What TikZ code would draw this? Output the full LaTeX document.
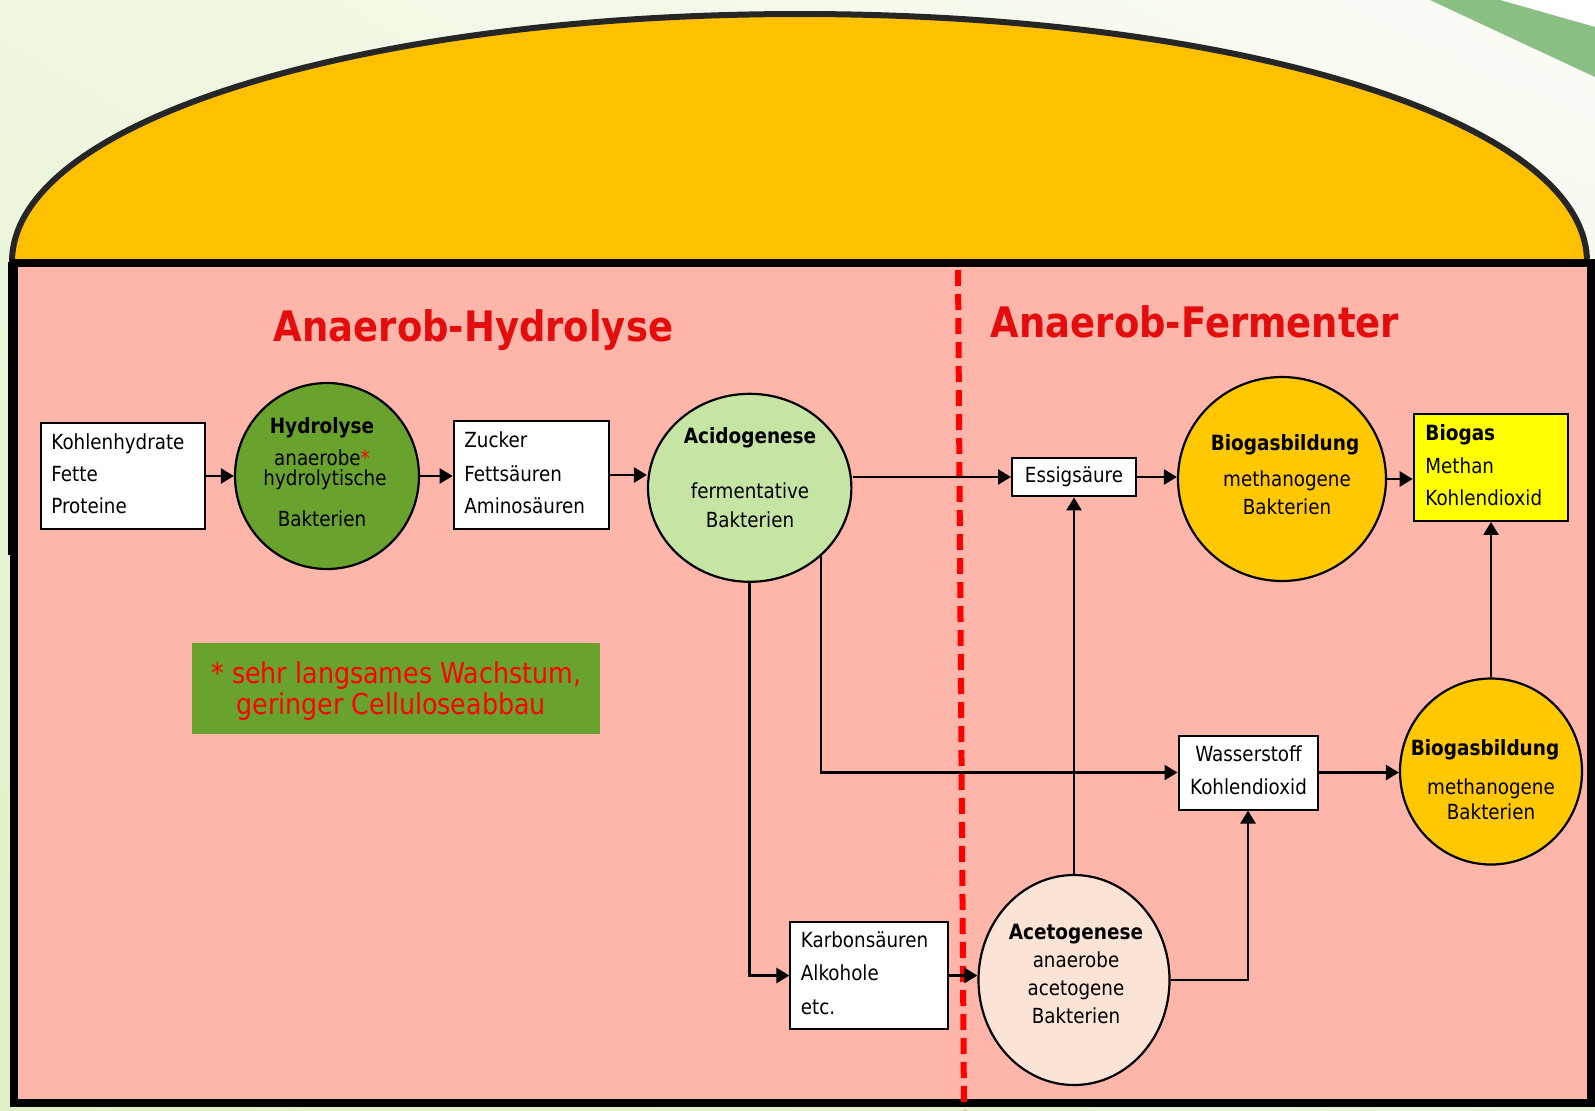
\documentclass[tikz,border=0pt]{standalone}
\usepackage{fontspec}
\setmainfont{DejaVu Sans}[FakeStretch=0.88]
\usetikzlibrary{shapes.geometric,arrows.meta,shadings}
\definecolor{pinkbg}{HTML}{FFB6AA}
\definecolor{domefill}{HTML}{FFC000}
\definecolor{domeline}{HTML}{262626}
\definecolor{titlered}{HTML}{E30D0D}
\definecolor{darkgreen}{HTML}{6AA22E}
\definecolor{lightgreen}{HTML}{C6E4A3}
\definecolor{biogold}{HTML}{FFC800}
\definecolor{biogasyellow}{HTML}{FFFF00}
\definecolor{acetfill}{HTML}{FBE3D6}
\definecolor{bandgreen}{HTML}{8ABF84}
\definecolor{bgA}{HTML}{EEF7E1}
\definecolor{bgB}{HTML}{FAFCF6}
\definecolor{bgC}{HTML}{E0F0C4}
\definecolor{bgD}{HTML}{E8F3D6}
\begin{document}
\begin{tikzpicture}[x=0.5pt,y=-0.5pt,
  box/.style={draw=black,line width=1pt,fill=white,inner sep=0pt,rectangle},
  oval/.style={ellipse,draw=black,line width=1.1pt,inner sep=0pt},
  conn/.style={line width=1.3pt,-{Triangle[length=6.5pt,width=7.5pt]}},
  txt/.style={inner sep=0pt,anchor=base,font=\fontsize{10.4}{12}\selectfont},
  txtl/.style={txt,anchor=base west},
  btxt/.style={inner sep=0pt,anchor=base,font=\fontsize{10.5}{12}\selectfont\bfseries},
  btxtl/.style={btxt,anchor=base west},
  title/.style={inner sep=0pt,anchor=base,text=titlered,font=\fontsize{21}{24}\selectfont\bfseries},
  notetxt/.style={inner sep=0pt,anchor=base west,text=red,font=\fontsize{14.4}{16}\selectfont}]
\useasboundingbox (0,0) rectangle (1595,1110);
% background
\shade[upper left=bgA,upper right=bgB,lower left=bgC,lower right=bgD] (0,0) rectangle (1595,1110);
\fill[white] (1500,0) -- (1595,0) -- (1595,27) -- cycle;
\fill[bandgreen] (1430,0) -- (1500,0) -- (1595,27) -- (1595,77) -- cycle;
% dome
\filldraw[fill=domefill,draw=domeline,line width=3pt]
  (12,262) .. controls (12,120) and (365,14) .. (800,14)
  .. controls (1235,14) and (1587,120) .. (1587,262) -- cycle;
\fill[black] (8,262) rectangle (11,555);
% tank
\filldraw[fill=pinkbg,draw=black,line width=4pt] (14,262.5) rectangle (1591,1103);
% titles
\node[title] (th) at (473.5,341.7) {Anaerob-Hydrolyse};
\node[title] (tf) at (1195,337) {Anaerob-Fermenter};
% divider
\coordinate (dtop) at (958,270);
\coordinate (dbot) at (964,1110);
\draw[red,line width=3pt,dash pattern=on 8pt off 4pt] (dtop) -- (dbot);
% note
\node[fill=darkgreen,inner sep=0pt,minimum width=204pt,minimum height=45.5pt] (note) at (396,688.5) {};
\node[notetxt] (note1) at (211,683) {* sehr langsames Wachstum,};
\node[notetxt] (note2) at (236,714) {geringer Celluloseabbau};
% shapes
\node[box,minimum width=82pt,minimum height=53pt] (box1) at (122.5,476) {};
\node[oval,fill=darkgreen,minimum width=92pt,minimum height=93pt] (hyd) at (327,476) {};
\node[box,minimum width=77.8pt,minimum height=54pt] (box2) at (531.5,475) {};
\node[oval,fill=lightgreen,minimum width=101.7pt,minimum height=94pt] (acid) at (749.7,487.8) {};
\node[box,minimum width=62pt,minimum height=19.4pt,font=\fontsize{10.4}{12}\selectfont] (essig) at (1074,477) {Essigsäure};
\node[oval,fill=biogold,minimum width=104pt,minimum height=102pt] (bio1) at (1282,479) {};
\node[box,fill=biogasyellow,minimum width=77.3pt,minimum height=53.4pt] (biogas) at (1491,467.5) {};
\node[box,minimum width=69.5pt,minimum height=37pt] (wass) at (1248,772.5) {};
\node[oval,fill=biogold,minimum width=91pt,minimum height=93pt] (bio2) at (1491,771.5) {};
\node[oval,fill=acetfill,minimum width=95.5pt,minimum height=105pt] (acet) at (1074,980) {};
\node[box,minimum width=78.8pt,minimum height=53.9pt] (karb) at (869.2,975.5) {};
% connectors
\draw[conn] (box1.east) -- (box1.east -| hyd.west);
\draw[conn] (hyd.east) -- (hyd.east -| box2.west);
\draw[conn] (box2.east) -- (box2.east -| acid.west);
\draw[conn] (acid.east |- essig.west) -- (essig.west);
\draw[conn] (essig.east) -- (essig.east -| bio1.west);
\draw[conn] (bio1.east) -- (bio1.east -| biogas.west);
\draw[conn] (acid.south) -- (acid.south |- karb.west) -- (karb.west);
\draw[conn] (acid.-44) -- (acid.-44 |- wass.west) -- (wass.west);
\draw[conn] (karb.east) -- (karb.east -| acet.west);
\draw[conn] (acet.north) -- (essig.south);
\draw[conn] (acet.east) -- (acet.east -| wass.south) -- (wass.south);
\draw[conn] (wass.east) -- (wass.east -| bio2.west);
\draw[conn] (bio2.north) -- (biogas.south);
% texts
\node[txtl] (b1a) at (51,449) {Kohlenhydrate};
\node[txtl] (b1b) at (51,481) {Fette};
\node[txtl] (b1c) at (51,513) {Proteine};
\node[btxt] (h1) at (322,433) {Hydrolyse};
\node[txt] (h2) at (322,465) {anaerobe\textcolor{red}{*}};
\node[txt] (h3) at (325,485) {hydrolytische};
\node[txt] (h4) at (322,526.7) {Bakterien};
\node[txtl] (b2a) at (464,447.7) {Zucker};
\node[txtl] (b2b) at (464,481) {Fettsäuren};
\node[txtl] (b2c) at (464,513) {Aminosäuren};
\node[btxt] (a1) at (750,443) {Acidogenese};
\node[txt] (a2) at (750,498) {fermentative};
\node[txt] (a3) at (750,527) {Bakterien};
\node[btxt] (m1) at (1285,450) {Biogasbildung};
\node[txt] (m2) at (1287,486.7) {methanogene};
\node[txt] (m3) at (1287,514) {Bakterien};
\node[btxtl] (g1) at (1425,440) {Biogas};
\node[txtl] (g2) at (1425,473.3) {Methan};
\node[txtl] (g3) at (1425,505.7) {Kohlendioxid};
\node[txt] (w1) at (1248.5,761.7) {Wasserstoff};
\node[txt] (w2) at (1248.5,794.3) {Kohlendioxid};
\node[btxt] (n1) at (1485,755) {Biogasbildung};
\node[txt] (n2) at (1491,794) {methanogene};
\node[txt] (n3) at (1491,819.3) {Bakterien};
\node[btxt] (c1) at (1076,939.3) {Acetogenese};
\node[txt] (c2) at (1076,967.7) {anaerobe};
\node[txt] (c3) at (1076,995.7) {acetogene};
\node[txt] (c4) at (1076,1023) {Bakterien};
\node[txtl] (k1) at (800.5,947.3) {Karbonsäuren};
\node[txtl] (k2) at (800.5,980.7) {Alkohole};
\node[txtl] (k3) at (800.5,1014) {etc.};
\end{tikzpicture}
\end{document}
